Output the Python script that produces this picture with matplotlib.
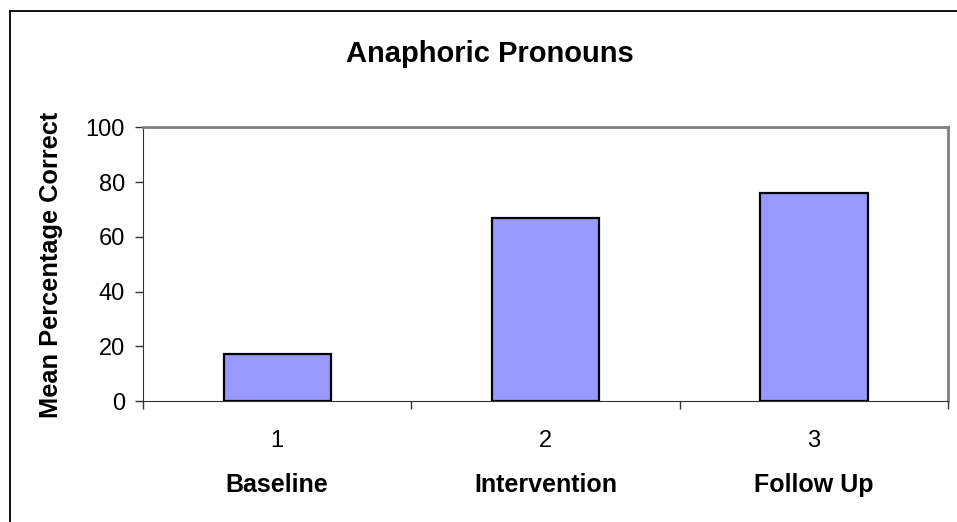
import matplotlib.pyplot as plt
from matplotlib.lines import Line2D
from matplotlib.transforms import blended_transform_factory

plt.rcParams['font.family'] = ['Liberation Sans', 'DejaVu Sans']

# data
positions = [1, 2, 3]
phases = ["Baseline", "Intervention", "Follow Up"]
values = [17, 67, 76]
y_ticks = [0, 20, 40, 60, 80, 100]

W, H = 957, 522
fig = plt.figure(figsize=(W / 100, H / 100), dpi=100)
ax = fig.add_axes([143 / W, 1 - 401 / H, (948 - 143) / W, (401 - 127.3) / H])

ax.bar(positions, values, width=0.4, color='#9999FF', edgecolor='black', linewidth=1.6, zorder=3)

ax.set_xlim(0.5, 3.5)
ax.set_ylim(0, 100)
ax.set_yticks(y_ticks)
ax.tick_params(axis='y', labelsize=17, length=6, width=1, color='#333333', pad=7)

# ticks at category boundaries
ax.set_xticks([0.5, 1.5, 2.5, 3.5])
ax.set_xticklabels([])
ax.tick_params(axis='x', length=6, width=1, color='#333333')

trans = blended_transform_factory(ax.transData, fig.transFigure)
for p, name in zip(positions, phases):
    ax.text(p, 1 - 447 / H, str(p), transform=trans, ha='center', va='baseline', fontsize=17)
    ax.text(p, 1 - 492 / H, name, transform=trans, ha='center', va='baseline',
            fontsize=18, fontweight='bold')

for side in ['top', 'right']:
    ax.spines[side].set_color('#808080')
    ax.spines[side].set_linewidth(2)
ax.spines['left'].set_color('#333333')
ax.spines['bottom'].set_color('#333333')

fig.text(490 / W, 1 - 62.5 / H, "Anaphoric Pronouns", ha='center', va='baseline',
         fontsize=21, fontweight='bold')
fig.text(51 / W, 1 - 264.5 / H, "Mean Percentage Correct", rotation=90,
         ha='center', va='center', fontsize=18.3, fontweight='bold')

# chart border (top and left edges visible)
fig.lines.append(Line2D([10 / W, 1], [1 - 11 / H, 1 - 11 / H], transform=fig.transFigure,
                        color='black', linewidth=1.3))
fig.lines.append(Line2D([10 / W, 10 / W], [0, 1 - 11 / H], transform=fig.transFigure,
                        color='black', linewidth=1.3))

fig.savefig('out.png', dpi=100)
